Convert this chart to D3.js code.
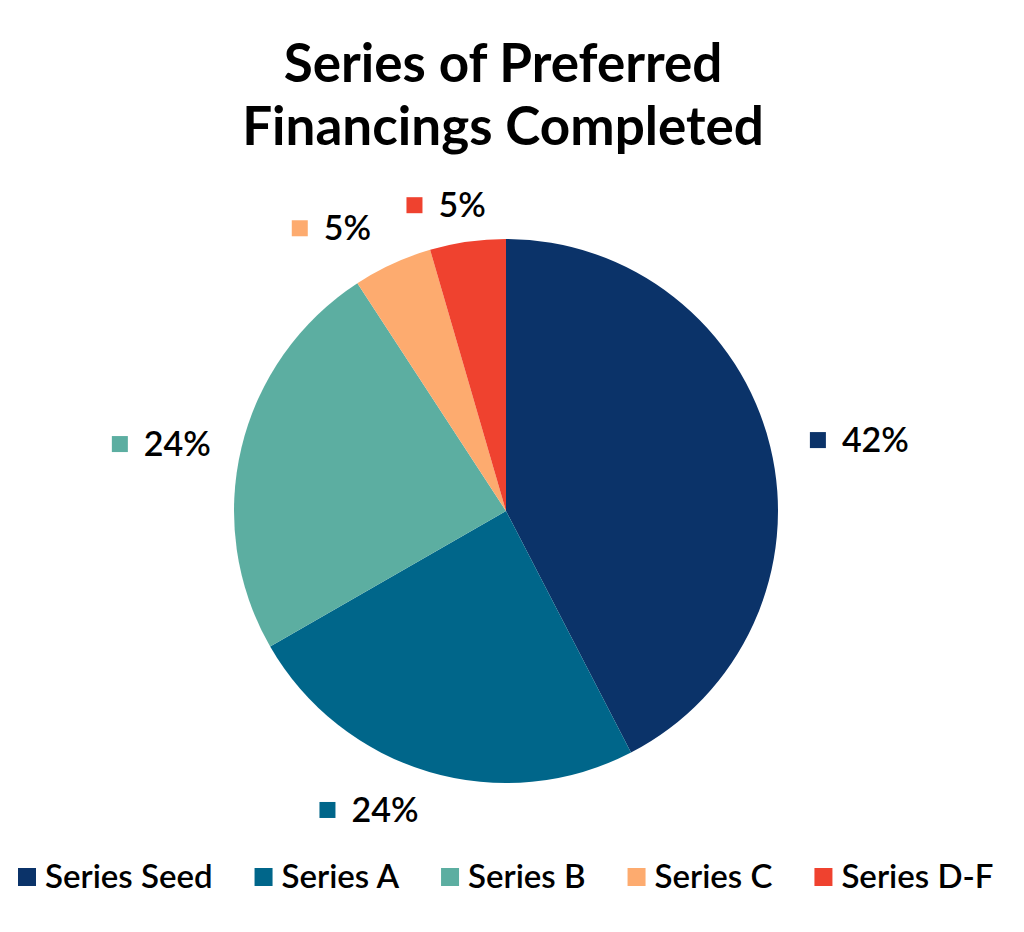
<!DOCTYPE html>
<html><head><meta charset="utf-8">
<script src="https://cdn.jsdelivr.net/npm/d3@7"></script>
<style>body{margin:0;background:#fff}svg{display:block}text{font-family:Lato,"Open Sans",sans-serif}</style>
</head><body>
<script>
const categories = ["Series Seed","Series A","Series B","Series C","Series D-F"];
const values = [42.4, 24.3, 24.1, 4.7, 4.5];
const labels = ["42%","24%","24%","5%","5%"];
const colors = ["#0b3369","#00668a","#5caea1","#fdab6f","#ef422f"];
const titleLines = ["Series of Preferred","Financings Completed"];

const W=1024,H=932, cx=506, cy=511, R=272;
const svg=d3.select("body").append("svg").attr("width",W).attr("height",H);

svg.selectAll("text.title").data(titleLines).join("text")
  .attr("class","title").attr("x",503).attr("y",(d,i)=>82+i*63)
  .attr("text-anchor","middle").attr("font-weight",700).attr("font-size",53).attr("fill","#000").text(d=>d);

const data=categories.map((c,i)=>({c,v:values[i],l:labels[i],col:colors[i]}));
const pie=d3.pie().value(d=>d.v).sort(null);
const arcs=pie(data);
const arc=d3.arc().innerRadius(0).outerRadius(R);
const g=svg.append("g").attr("transform",`translate(${cx},${cy})`);
g.selectAll("path").data(arcs).join("path").attr("d",arc).attr("fill",d=>d.data.col);

// data labels
const nudge=[[-8,5],[3,-9],[17,8],[-1,9],[25,12]];
const LR=321;
arcs.forEach((a,i)=>{
  const m=(a.startAngle+a.endAngle)/2;
  const px=cx+LR*Math.sin(m)+nudge[i][0], py=cy-LR*Math.cos(m)+nudge[i][1];
  const lg=svg.append("g");
  const t=lg.append("text").attr("font-size",34).attr("font-weight",600).attr("fill","#000").text(a.data.l);
  const tw=t.node().getComputedTextLength();
  const sq=16, gap=16, total=sq+gap+tw;
  const x0 = m<Math.PI ? px : px-total;
  lg.append("rect").attr("x",x0).attr("y",py-8).attr("width",sq).attr("height",sq).attr("fill",a.data.col);
  t.attr("x",x0+sq+gap).attr("y",py+12);
});

// legend
const leg=svg.append("g");
let x=18;
data.forEach(d=>{
  leg.append("rect").attr("x",x).attr("y",868).attr("width",18).attr("height",18).attr("fill",d.col);
  const t=leg.append("text").attr("x",x+27).attr("y",888).attr("font-size",33).attr("font-weight",600).attr("fill","#000").text(d.c);
  x = x+27+t.node().getComputedTextLength()+42;
});
</script>
</body></html>
